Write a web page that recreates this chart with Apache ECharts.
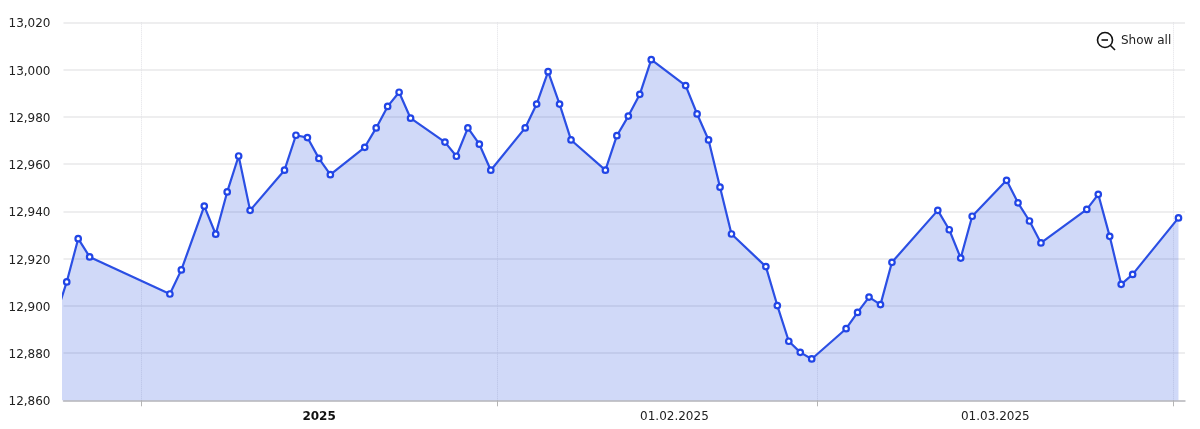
<!DOCTYPE html>
<html>
<head>
<meta charset="utf-8">
<style>html,body{margin:0;padding:0;background:#fff;overflow:hidden}#c{width:1200px;height:429px}</style>
<script src="https://cdn.jsdelivr.net/npm/echarts@6/dist/echarts.min.js"></script>
</head>
<body>
<div id="c"></div>
<script>
const dates = [
  '2024-12-24','2024-12-25','2024-12-26','2024-12-27',
  '2025-01-03','2025-01-04',
  '2025-01-06','2025-01-07','2025-01-08','2025-01-09','2025-01-10',
  '2025-01-13','2025-01-14','2025-01-15','2025-01-16','2025-01-17',
  '2025-01-20','2025-01-21','2025-01-22','2025-01-23','2025-01-24',
  '2025-01-27','2025-01-28','2025-01-29','2025-01-30','2025-01-31',
  '2025-02-03','2025-02-04','2025-02-05','2025-02-06','2025-02-07',
  '2025-02-10','2025-02-11','2025-02-12','2025-02-13','2025-02-14',
  '2025-02-17','2025-02-18','2025-02-19','2025-02-20','2025-02-21',
  '2025-02-24','2025-02-25','2025-02-26','2025-02-27','2025-02-28',
  '2025-03-03','2025-03-04','2025-03-05','2025-03-06','2025-03-07',
  '2025-03-11','2025-03-12','2025-03-13','2025-03-14',
  '2025-03-17','2025-03-18','2025-03-19','2025-03-20',
  '2025-03-24','2025-03-25','2025-03-26','2025-03-27','2025-03-28',
  '2025-04-01'
];
const values = [
  12895,12910.1,12928.4,12920.7,
  12905,12915.2,
  12942.2,12930.3,12948.2,12963.4,12940.4,
  12957.4,12972.2,12971.2,12962.4,12955.5,
  12967.1,12975.3,12984.4,12990.4,12979.4,
  12969.3,12963.3,12975.3,12968.4,12957.4,
  12975.3,12985.4,12999.1,12985.4,12970.2,
  12957.4,12972,12980.3,12989.5,13004.2,
  12993.2,12981.2,12970.2,12950.2,12930.4,
  12916.6,12900.1,12885,12880.3,12877.5,
  12890.3,12897.2,12903.7,12900.5,12918.4,
  12940.4,12932.2,12920.2,12937.9,
  12953.1,12943.6,12935.9,12926.6,
  12940.8,12947.2,12929.4,12909.1,12913.3,
  12937.2
];
const monthTicks = ['2025-01-01','2025-02-01','2025-03-01','2025-04-01'];
const monthLabelPositions = ['2025-01-16T12:00','2025-02-16T12:00','2025-03-16T12:00'];
const monthLabels = ['{b|2025}','01.02.2025','01.03.2025'];
const axisStart = '2024-12-25T04:44';
const axisEnd = '2025-04-02T01:09';
const showAllText = 'Show all';

const utc = s => new Date(s.length === 10 ? s + 'T00:00:00Z' : s + ':00Z').getTime();
const pointOffset = 11.5 * 3600 * 1000;
const labelTimes = monthLabelPositions.map(utc);
const font = '"DejaVu Sans", Verdana, sans-serif';
const chart = echarts.init(document.getElementById('c'));
chart.setOption({
  animation: false,
  backgroundColor: '#fff',
  grid: { left: 63.5, top: 22.3, width: 1121.5, height: 378, containLabel: false },
  xAxis: {
    type: 'value',
    min: utc(axisStart),
    max: utc(axisEnd),
    axisLine: { show: true, lineStyle: { color: '#b9b9bf', width: 1.5 } },
    axisTick: { show: true, length: 6, customValues: monthTicks.map(utc), lineStyle: { color: '#b5b5b5', width: 1 } },
    axisLabel: {
      show: true,
      customValues: labelTimes,
      margin: 11,
      color: '#222',
      fontFamily: font,
      fontSize: 12,
      formatter: v => monthLabels[labelTimes.indexOf(v)] ?? '',
      rich: { b: { fontFamily: font, fontSize: 12, fontWeight: 'bold', color: '#111' } }
    },
    splitLine: { show: true, lineStyle: { color: '#e2e2e6', width: 1, type: 'dotted' } }
  },
  yAxis: {
    type: 'value',
    min: 12860,
    max: 13020,
    interval: 20,
    axisLine: { show: false },
    axisTick: { show: false },
    axisLabel: {
      margin: 13,
      verticalAlign: 'top',
      lineHeight: 4,
      color: '#222',
      fontFamily: font,
      fontSize: 12,
      formatter: v => v.toLocaleString('en-US')
    },
    splitLine: { show: true, lineStyle: { color: '#e8e8ea', width: 1.5 } }
  },
  series: [{
    type: 'line',
    data: dates.map((d, i) => [utc(d) + pointOffset, values[i]]),
    showAllSymbol: true,
    symbol: 'circle',
    symbolSize: 5.5,
    clip: true,
    lineStyle: { color: '#2b4fe4', width: 2.2 },
    itemStyle: { color: '#fff', borderColor: '#2145e6', borderWidth: 2.2 },
    areaStyle: { color: 'rgba(40,80,225,0.22)', opacity: 1 }
  }],
  graphic: [
    { type: 'circle', shape: { cx: 1105, cy: 40, r: 7.5 }, style: { fill: 'none', stroke: '#111', lineWidth: 1.6 } },
    { type: 'line', shape: { x1: 1110.5, y1: 45.5, x2: 1115, y2: 50 }, style: { stroke: '#111', lineWidth: 1.6 } },
    { type: 'line', shape: { x1: 1101.5, y1: 40, x2: 1108, y2: 40 }, style: { stroke: '#111', lineWidth: 1.6 } },
    { type: 'text', x: 1121, y: 41, style: { text: showAllText, fill: '#222', font: '12px ' + font, textVerticalAlign: 'middle' } }
  ]
});
</script>
</body>
</html>
